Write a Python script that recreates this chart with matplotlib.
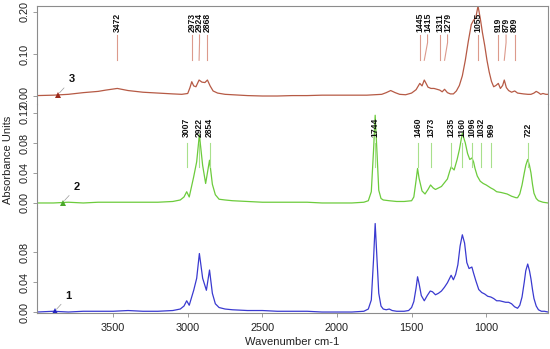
import numpy as np
import matplotlib
matplotlib.use("Agg")
import matplotlib.pyplot as plt

plt.rcParams['font.family'] = ['Liberation Sans', 'DejaVu Sans']

# spectrum 1 (bottom, blue)
wn1 = [4010, 3900, 3800, 3700, 3600, 3500, 3400, 3300, 3200, 3100, 3050, 3025, 3007, 2990,
       2960, 2940, 2922, 2900, 2875, 2854, 2835, 2815, 2790, 2750, 2700, 2600, 2500, 2400,
       2300, 2200, 2100, 2000, 1900, 1820, 1790, 1770, 1755, 1744, 1733, 1720, 1705, 1690,
       1670, 1650, 1630, 1600, 1550, 1520, 1500, 1485, 1470, 1460, 1450, 1435, 1415, 1395,
       1375, 1360, 1340, 1320, 1300, 1280, 1260, 1245, 1235, 1220, 1205, 1190, 1175, 1160,
       1145, 1130, 1115, 1096, 1085, 1070, 1050, 1030, 1010, 990, 969, 950, 930, 910, 890,
       870, 850, 830, 810, 790, 775, 760, 745, 735, 722, 710, 700, 690, 680, 665, 650, 630,
       610, 586]
ab1 = [0.000, 0.001, 0.000, 0.001, 0.001, 0.001, 0.002, 0.001, 0.001, 0.002, 0.004, 0.008,
       0.015, 0.009, 0.029, 0.045, 0.078, 0.045, 0.029, 0.056, 0.025, 0.011, 0.006, 0.004,
       0.003, 0.002, 0.002, 0.001, 0.001, 0.001, 0.000, 0.000, 0.000, 0.001, 0.004, 0.016,
       0.070, 0.118, 0.075, 0.025, 0.008, 0.004, 0.003, 0.004, 0.002, 0.001, 0.001, 0.002,
       0.006, 0.014, 0.032, 0.047, 0.038, 0.022, 0.015, 0.022, 0.028, 0.027, 0.023, 0.025,
       0.028, 0.033, 0.039, 0.045, 0.049, 0.043, 0.050, 0.063, 0.088, 0.103, 0.092, 0.066,
       0.058, 0.060, 0.052, 0.042, 0.030, 0.026, 0.024, 0.021, 0.020, 0.018, 0.015, 0.015,
       0.014, 0.013, 0.013, 0.011, 0.007, 0.005, 0.009, 0.020, 0.040, 0.055, 0.064, 0.055,
       0.044, 0.030, 0.018, 0.008, 0.003, 0.001, 0.001, 0.000]

# spectrum 2 (middle, green)
wn2 = [4010, 3900, 3800, 3700, 3600, 3500, 3400, 3300, 3200, 3100, 3050, 3025, 3007, 2990,
       2960, 2940, 2922, 2900, 2880, 2854, 2835, 2815, 2790, 2750, 2700, 2600, 2500, 2400,
       2300, 2200, 2100, 2000, 1900, 1820, 1790, 1770, 1755, 1744, 1733, 1720, 1705, 1690,
       1650, 1600, 1550, 1500, 1485, 1470, 1460, 1450, 1430, 1410, 1390, 1373, 1355, 1340,
       1300, 1260, 1245, 1235, 1215, 1195, 1180, 1160, 1140, 1125, 1110, 1096, 1085, 1075,
       1060, 1040, 1020, 1000, 969, 950, 930, 900, 880, 860, 830, 800, 790, 775, 760, 745,
       735, 722, 710, 700, 690, 680, 665, 650, 620, 586]
ab2 = [0.000, 0.000, 0.001, 0.000, 0.001, 0.001, 0.001, 0.001, 0.001, 0.002, 0.004, 0.008,
       0.015, 0.008, 0.035, 0.055, 0.091, 0.050, 0.026, 0.057, 0.025, 0.011, 0.005, 0.004,
       0.003, 0.002, 0.001, 0.001, 0.001, 0.001, 0.000, 0.000, 0.000, 0.001, 0.003, 0.015,
       0.070, 0.117, 0.072, 0.017, 0.006, 0.004, 0.003, 0.002, 0.002, 0.003, 0.008, 0.030,
       0.046, 0.033, 0.016, 0.012, 0.018, 0.024, 0.020, 0.018, 0.022, 0.032, 0.042, 0.048,
       0.044, 0.058, 0.071, 0.093, 0.080, 0.066, 0.058, 0.060, 0.055, 0.046, 0.036, 0.029,
       0.026, 0.024, 0.020, 0.018, 0.015, 0.014, 0.013, 0.012, 0.009, 0.007, 0.007, 0.012,
       0.024, 0.040, 0.050, 0.058, 0.050, 0.040, 0.025, 0.013, 0.006, 0.003, 0.001, 0.000]

# spectrum 3 (top, brown)
wn3 = [4010, 3900, 3800, 3700, 3600, 3550, 3472, 3400, 3300, 3200, 3100, 3040, 3000, 2985,
       2973, 2960, 2945, 2924, 2905, 2885, 2868, 2850, 2830, 2800, 2750, 2700, 2600, 2500,
       2400, 2300, 2200, 2100, 2000, 1900, 1800, 1700, 1670, 1640, 1610, 1580, 1540, 1500,
       1470, 1445, 1430, 1415, 1400, 1390, 1370, 1350, 1330, 1311, 1295, 1279, 1260, 1240,
       1220, 1200, 1180, 1160, 1140, 1120, 1100, 1085, 1070, 1055, 1040, 1025, 1010, 995,
       980, 965, 950, 935, 919, 905, 890, 879, 865, 850, 830, 809, 790, 770, 750, 720, 700,
       680, 665, 650, 635, 620, 600, 586]
ab3 = [0.001, 0.002, 0.004, 0.008, 0.011, 0.014, 0.018, 0.013, 0.009, 0.007, 0.005, 0.004,
       0.006, 0.020, 0.034, 0.024, 0.022, 0.038, 0.033, 0.032, 0.038, 0.024, 0.012, 0.007,
       0.004, 0.003, 0.001, 0.000, 0.000, 0.001, 0.001, 0.002, 0.002, 0.002, 0.002, 0.004,
       0.008, 0.013, 0.008, 0.004, 0.003, 0.007, 0.015, 0.030, 0.024, 0.038, 0.028, 0.021,
       0.018, 0.018, 0.016, 0.014, 0.010, 0.016, 0.008, 0.005, 0.005, 0.012, 0.025, 0.048,
       0.085, 0.130, 0.170, 0.180, 0.186, 0.214, 0.185, 0.150, 0.120, 0.085, 0.057, 0.035,
       0.022, 0.025, 0.030, 0.018, 0.025, 0.038, 0.020, 0.013, 0.009, 0.012, 0.007, 0.006,
       0.005, 0.004, 0.004, 0.007, 0.011, 0.008, 0.004, 0.006, 0.004, 0.004]

peaks1 = []
peaks2 = [3007, 2922, 2854, 1744, 1460, 1373, 1235, 1160, 1096, 1032, 969, 722]
peaks3 = [3472, 2973, 2924, 2868, 1445, 1415, 1311, 1279, 1055, 919, 879, 809]

xticks = [3500, 3000, 2500, 2000, 1500, 1000]

W, H = 550, 349
fig = plt.figure(figsize=(W / 100, H / 100), dpi=100)

def px_axes(top, bottom):
    return fig.add_axes([37 / W, (H - bottom) / H, 511 / W, (bottom - top) / H])

frame_col = '#8c8c8c'
# (axes, x, y, line colour, label line colour, marker colour, ylim, yticks, labels, peaks, number, marker x, label y/line span)
panels = [
    (px_axes(6, 104), wn3, ab3, '#b65a45', '#dc9a8c', '#9c2a1c', (-0.019, 0.214),
     [0.0, 0.10, 0.20], ['0.00', '0.10', '0.20'], peaks3, '3', 3872, (0.152, 0.145, 0.085)),
    (px_axes(104, 208), wn2, ab2, '#6ccb3c', '#a8e08c', '#4aa82a', (-0.0067, 0.132),
     [0.0, 0.04, 0.08, 0.12], ['0.00', '0.04', '0.08', '0.12'], peaks2, '2', 3838,
     (0.088, 0.080, 0.048)),
    (px_axes(208, 313), wn1, ab1, '#3a3ad0', '#9090e0', '#2222c0', (-0.0013, 0.1387),
     [0.0, 0.04, 0.08], ['0.00', '0.04', '0.08'], peaks1, '1', 3892, None),
]

for i, (ax, x, y, col, lcol, mcol, ylim, yt, ytl, peaks, lab, mx, lpos) in enumerate(panels):
    ax.plot(x, y, color=col, lw=0.9)
    ax.set_xlim(4010, 586)
    ax.set_ylim(*ylim)
    ax.set_yticks(yt)
    ax.set_yticklabels(ytl, rotation=90, va='center', fontsize=7.8, color='#222222')
    ax.tick_params(axis='y', length=3, width=0.6, color=frame_col, pad=2)
    for s in ax.spines.values():
        s.set_color(frame_col)
        s.set_linewidth(0.8)
    ax.spines['top'].set_visible(i == 0)
    ax.spines['bottom'].set_visible(i == 2)
    ax.patch.set_alpha(0)
    if i == 2:
        ax.set_xticks(xticks)
        ax.set_xticklabels([str(t) for t in xticks], fontsize=7.8, color='#222222')
        ax.tick_params(axis='x', length=3, width=0.6, color=frame_col, pad=4)
    else:
        ax.set_xticks([])

    # sample number marker
    my = np.interp(mx, x[::-1], y[::-1])
    ax.plot([mx], [my], marker='^', color=mcol, ms=5, mew=0)
    ax.annotate(lab, xy=(mx, my), xytext=(8, 9), textcoords='offset points',
                fontsize=8, fontweight='bold', color='#111111',
                arrowprops=dict(arrowstyle='-', color='#999999', lw=0.5))

    # peak labels, nudged apart where crowded
    if peaks:
        ty, l_top, l_bot = lpos
        lx = []
        for p in peaks:
            q = p
            if lx and lx[-1] - q < 52:
                q = lx[-1] - 52
            lx.append(q)
        mid = l_top - (l_top - l_bot) * 0.3
        for p, q in zip(peaks, lx):
            ax.plot([q, q, p], [l_top, mid, l_bot], color=lcol, lw=0.8)
            ax.text(q, ty, str(p), rotation=90, ha='center', va='bottom',
                    fontsize=6.2, fontweight='bold', color='#111111')

fig.text(8 / W, 1 - 160 / H, 'Absorbance Units', rotation=90, ha='center', va='center',
         fontsize=8, color='#222222')
fig.text(292 / W, 1 - 342 / H, 'Wavenumber cm-1', ha='center', va='center',
         fontsize=8, color='#222222')

fig.savefig('out.png', dpi=100)
plt.close(fig)
